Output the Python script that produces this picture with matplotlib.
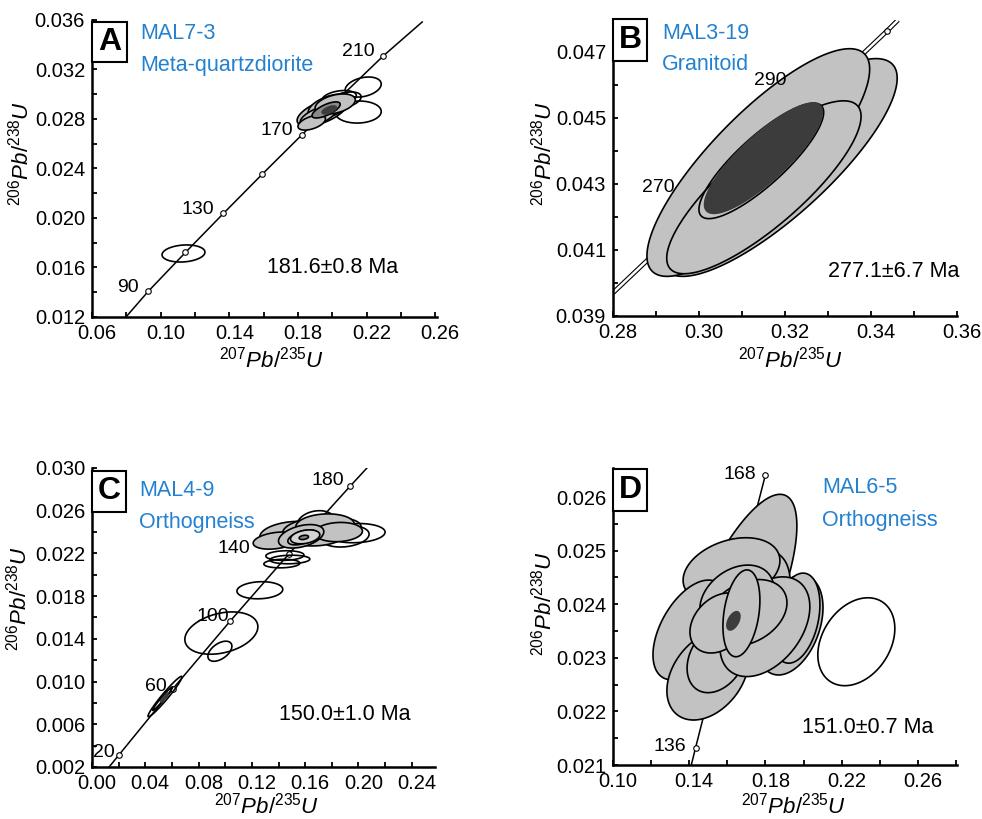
import numpy as np
import matplotlib
matplotlib.use('Agg')
import matplotlib.pyplot as plt
from matplotlib.patches import Polygon, Rectangle
from matplotlib.ticker import FormatStrFormatter
from matplotlib.transforms import ScaledTranslation

plt.rcParams['font.family'] = ['Liberation Sans', 'DejaVu Sans']
plt.rcParams['mathtext.fontset'] = 'custom'
plt.rcParams['mathtext.it'] = 'Liberation Sans:italic'
plt.rcParams['mathtext.rm'] = 'Liberation Sans'

# ---- panel A: MAL7-3 ----
a_cx = [0.1133, 0.2180, 0.2151, 0.2075, 0.2040, 0.1941, 0.1988, 0.1918, 0.1880, 0.2017, 0.1964, 0.1982]
a_cy = [0.01713, 0.03058, 0.02856, 0.02953, 0.02970, 0.02856, 0.02905, 0.02824, 0.02770, 0.02921, 0.02873, 0.02873]
a_sx = [0.0125, 0.0105, 0.0134, 0.0093, 0.0100, 0.0146, 0.0128, 0.0105, 0.0080, 0.0117, 0.0082, 0.0041]
a_sy = [0.00069, 0.00081, 0.00089, 0.00065, 0.00060, 0.00113, 0.00097, 0.00081, 0.00060, 0.00081, 0.00065, 0.00032]
a_rho = [0.15, 0.3, 0.05, 0.4, 0.3, 0.6, 0.5, 0.6, 0.5, 0.4, 0.7, 0.6]
a_kind = ['open', 'open', 'open', 'open', 'open', 'gray', 'gray', 'gray', 'gray', 'gray', 'mid', 'dark']
a_ages = [90, 110, 130, 150, 170, 190, 210]
a_mx = [0.0927, 0.1144, 0.1366, 0.1592, 0.1823, 0.2058, 0.2298]
a_my = [0.01406, 0.01721, 0.02037, 0.02354, 0.02672, 0.02991, 0.03311]
a_line_ends = [(0.0798, 0.0120), (0.2524, 0.03584)]
a_labeled = [90, 130, 170, 210]

# ---- panel B: MAL3-19 ----
b_cx = [0.3187, 0.3138, 0.3151, 0.3145, 0.3150]
b_cy = [0.0435, 0.04365, 0.0429, 0.0437, 0.04378]
b_sx = [0.0274, 0.0259, 0.0226, 0.0145, 0.0137]
b_sy = [0.0033, 0.00345, 0.00262, 0.00175, 0.00167]
b_rho = [0.82, 0.82, 0.82, 0.84, 0.84]
b_kind = ['gray', 'gray', 'gray', 'open', 'dark']
b_ages = [260, 270, 280, 290, 300]
b_mx = [0.29182, 0.30461, 0.31752, 0.33057, 0.34375]
b_my = [0.04116, 0.04277, 0.04439, 0.04601, 0.04764]
b_line_ends = [(0.2800, 0.03970), (0.3463, 0.04797)]
b_labeled = [270, 290]

# ---- panel C: MAL4-9 ----
c_cx = [0.126, 0.0971, 0.096, 0.0548, 0.0530, 0.0542,
        0.1448, 0.1485, 0.1425,
        0.198, 0.190, 0.185, 0.168,
        0.150, 0.168, 0.138, 0.175, 0.185, 0.157, 0.158, 0.160, 0.159]
c_cy = [0.01855, 0.01454, 0.01284, 0.0086, 0.0084, 0.0085,
        0.0218, 0.02143, 0.02105,
        0.0239, 0.0236, 0.0244, 0.0249,
        0.0238, 0.0240, 0.0232, 0.0246, 0.0240, 0.0236, 0.0235, 0.02355, 0.0235]
c_sx = [0.0172, 0.0274, 0.0090, 0.01275, 0.0075, 0.0028,
        0.0143, 0.0150, 0.0135,
        0.022, 0.018, 0.017, 0.014,
        0.024, 0.025, 0.017, 0.022, 0.018, 0.017, 0.011, 0.011, 0.0035]
c_sy = [0.0008, 0.00198, 0.00094, 0.00189, 0.0011, 0.00042,
        0.00045, 0.0004, 0.0004,
        0.0009, 0.0010, 0.0009, 0.0011,
        0.0012, 0.0013, 0.0008, 0.0011, 0.0009, 0.0011, 0.0007, 0.00065, 0.0002]
c_rho = [0.1, 0.3, 0.5, 0.97, 0.98, 0.95,
         0.1, 0.1, 0.1,
         0.1, 0.2, 0.1, 0.2,
         0.2, 0.1, 0.3, 0.1, 0.1, 0.4, 0.5, 0.3, 0.3]
c_kind = ['open', 'open', 'open', 'open', 'open', 'dark',
          'open', 'open', 'open',
          'open', 'open', 'open', 'open',
          'gray', 'gray', 'gray', 'gray', 'gray', 'gray', 'gray', 'light', 'mid']
c_ages = [20, 60, 100, 140, 180]
c_mx = [0.0201, 0.06087, 0.1035, 0.14784, 0.19396]
c_my = [0.00311, 0.00935, 0.01563, 0.02196, 0.02832]
c_line_ends = [(0.0128, 0.0020), (0.2064, 0.0300)]
c_labeled = [20, 60, 100, 140, 180]

# ---- panel D: MAL6-5 ----
d_cx = [0.2277, 0.165, 0.168, 0.1622, 0.1404, 0.1498, 0.1546, 0.1929, 0.196, 0.1797,
        0.165, 0.1703, 0.1561, 0.1674, 0.1632]
d_cy = [0.0233, 0.02395, 0.0238, 0.02463, 0.02352, 0.02268, 0.0230, 0.02361, 0.02374, 0.02358,
        0.0241, 0.02384, 0.02365, 0.02383, 0.02369]
d_sx = [0.0202, 0.0315, 0.025, 0.0254, 0.0194, 0.0215, 0.0157, 0.0173, 0.0126, 0.0236,
        0.0194, 0.021, 0.0157, 0.0097, 0.0034]
d_sy = [0.00082, 0.0021, 0.0012, 0.00061, 0.00093, 0.00084, 0.00065, 0.00093, 0.00084, 0.00093,
        0.00063, 0.00062, 0.00056, 0.00081, 0.00017]
d_rho = [0.3, 0.72, 0.5, 0.3, 0.5, 0.35, 0.3, 0.35, 0.3, 0.4,
         0.3, 0.3, 0.3, 0.3, 0.5]
d_kind = ['open', 'gray', 'gray', 'gray', 'gray', 'gray', 'gray', 'gray', 'gray', 'gray',
          'gray', 'gray', 'gray', 'gray', 'dark']
d_ages = [136, 152, 168]
d_mx = [0.14333, 0.16149, 0.17993]
d_my = [0.021321, 0.02386, 0.026403]
d_line_ends = [(0.1411, 0.0210), (0.17993, 0.026403)]
d_labeled = [136, 168]

FILL = {'gray': '#c2c2c2', 'light': '#d4d4d4', 'mid': '#8a8a8a', 'dark': '#3c3c3c', 'open': 'none'}
BLUE = '#2381cf'


def ellipse_points(cx, cy, sx, sy, rho, n=160):
    t = np.linspace(0, 2 * np.pi, n)
    x = cx + sx * np.cos(t)
    y = cy + sy * (rho * np.cos(t) + np.sqrt(1 - rho ** 2) * np.sin(t))
    return np.column_stack([x, y])


def draw_panel(ax, cx, cy, sx, sy, rho, kind, ages, mx, my, ends, labeled,
               label_offsets, band=False):
    inside = [(x, y) for x, y in zip(mx, my) if ends[0][0] < x < ends[1][0]]
    lx = [ends[0][0]] + [p[0] for p in inside] + [ends[1][0]]
    ly = [ends[0][1]] + [p[1] for p in inside] + [ends[1][1]]
    if band:
        ax.plot(lx, ly, color='black', lw=3.4, zorder=1, solid_capstyle='butt')
        ax.plot(lx, ly, color='white', lw=1.8, zorder=1.1, solid_capstyle='butt')
    else:
        ax.plot(lx, ly, color='black', lw=1.1, zorder=1)
    ax.plot(mx, my, 'o', ms=4, mfc='white', mec='black', mew=0.8, zorder=1.2)
    for age, x, y in zip(ages, mx, my):
        if age in labeled:
            dx, dy = label_offsets[labeled.index(age)]
            ax.annotate(str(age), (x, y), xytext=(dx, dy), textcoords='offset pixels',
                        ha='right', va='center', fontsize=14, zorder=6)
    for i in range(len(cx)):
        pts = ellipse_points(cx[i], cy[i], sx[i], sy[i], rho[i])
        fc = FILL[kind[i]]
        ec = FILL['dark'] if kind[i] == 'dark' else 'black'
        ax.add_patch(Polygon(pts, closed=True, fc=fc, ec=ec, lw=1.2, zorder=2 + i * 0.01))


def style_axes(ax, xlim, ylim, xticks, xminor, yticks, yminor, ylab_pos, xlab_pos):
    ax.set_xlim(*xlim)
    ax.set_ylim(*ylim)
    for s in ['top', 'right']:
        ax.spines[s].set_visible(False)
    for s in ['left', 'bottom']:
        ax.spines[s].set_linewidth(1.8)
    ax.set_xticks(xticks)
    ax.set_xticks(xminor, minor=True)
    ax.set_yticks(yticks)
    ax.set_yticks(yminor, minor=True)
    ax.xaxis.set_major_formatter(FormatStrFormatter('%.2f'))
    ax.yaxis.set_major_formatter(FormatStrFormatter('%.3f'))
    ax.tick_params(which='both', direction='in', length=3.5, width=1.3, labelsize=14.5)
    ax.tick_params(axis='x', pad=5)
    ax.tick_params(axis='y', pad=5)
    ax.set_xlabel(r'$\mathit{{}^{207}Pb/{}^{235}U}$', fontsize=16)
    ax.set_ylabel(r'$\mathit{{}^{206}Pb/{}^{238}U}$', fontsize=16)
    ax.xaxis.set_label_coords(*xlab_pos)
    ax.yaxis.set_label_coords(*ylab_pos)
    for lab in ax.get_xticklabels():
        lab.set_transform(lab.get_transform() + ScaledTranslation(0.05, 0, ax.figure.dpi_scale_trans))


def panel_tag(ax, letter, box, name, rock, name_xy, age_text, age_xy):
    x0, y0, w, h = box
    ax.add_patch(Rectangle((x0, y0), w, h, transform=ax.transAxes, fc='white', ec='black',
                           lw=1.5, clip_on=False, zorder=10))
    ax.text(x0 + w / 2, y0 + h / 2, letter, transform=ax.transAxes, ha='center', va='center',
            fontsize=23, fontweight='bold', zorder=11)
    ax.text(name_xy[0], name_xy[1], name, transform=ax.transAxes, color=BLUE,
            fontsize=15.5, va='center', ha='left', zorder=11)
    ax.text(name_xy[0], name_xy[2], rock, transform=ax.transAxes, color=BLUE,
            fontsize=15.5, va='center', ha='left', zorder=11)
    ax.text(age_xy[0], age_xy[1], age_text, transform=ax.transAxes,
            fontsize=15.5, va='center', ha='left', zorder=11)


fig = plt.figure(figsize=(9.82, 8.19), dpi=100)
axA = fig.add_axes([0.0937, 0.6130, 0.3513, 0.3626])
axB = fig.add_axes([0.6242, 0.6142, 0.3503, 0.3614])
axC = fig.add_axes([0.0937, 0.0635, 0.3493, 0.3651])
axD = fig.add_axes([0.6242, 0.0659, 0.3503, 0.3626])

draw_panel(axA, a_cx, a_cy, a_sx, a_sy, a_rho, a_kind, a_ages, a_mx, a_my, a_line_ends,
           a_labeled, [(-9, 4), (-9, 4), (-9, 4), (-9, 4)])
style_axes(axA, (0.06, 0.261), (0.012, 0.036),
           np.arange(0.06, 0.261, 0.04), np.arange(0.06, 0.261, 0.02),
           np.arange(0.012, 0.0361, 0.004), np.arange(0.012, 0.0361, 0.002),
           (-0.171, 0.55), (0.52, -0.101))
panel_tag(axA, 'A', (0, 0.859, 0.101, 0.134), 'MAL7-3', 'Meta-quartzdiorite',
          (0.139, 0.956, 0.848), '181.6\u00b10.8 Ma', (0.507, 0.165))

draw_panel(axB, b_cx, b_cy, b_sx, b_sy, b_rho, b_kind, b_ages, b_mx, b_my, b_line_ends,
           b_labeled, [(-44, 4), (-44, 4)], band=True)
style_axes(axB, (0.28, 0.3598), (0.039, 0.04797),
           np.arange(0.28, 0.361, 0.02), np.arange(0.28, 0.361, 0.01),
           np.arange(0.039, 0.0475, 0.002), np.arange(0.039, 0.0479, 0.001),
           (-0.163, 0.55), (0.517, -0.105))
panel_tag(axB, 'B', (0, 0.861, 0.099, 0.142), 'MAL3-19', 'Granitoid',
          (0.142, 0.956, 0.848), '277.1\u00b16.7 Ma', (0.625, 0.149))

draw_panel(axC, c_cx, c_cy, c_sx, c_sy, c_rho, c_kind, c_ages, c_mx, c_my, c_line_ends,
           c_labeled, [(-4, 3), (-6, 2), (-1, 5), (-39, 5), (-6, 5)])
style_axes(axC, (0.0, 0.2575), (0.002, 0.030),
           np.arange(0.0, 0.241, 0.04), np.arange(0.0, 0.2575, 0.02),
           np.arange(0.002, 0.0301, 0.004), np.arange(0.002, 0.0301, 0.002),
           (-0.175, 0.565), (0.51, -0.085))
panel_tag(axC, 'C', (0, 0.853, 0.099, 0.137), 'MAL4-9', 'Orthogneiss',
          (0.137, 0.926, 0.819), '150.0\u00b11.0 Ma', (0.545, 0.174))

draw_panel(axD, d_cx, d_cy, d_sx, d_sy, d_rho, d_kind, d_ages, d_mx, d_my, d_line_ends,
           d_labeled, [(-9, 1), (-9, 1)])
style_axes(axD, (0.10, 0.2805), (0.021, 0.02654),
           np.arange(0.10, 0.261, 0.04), np.arange(0.10, 0.2805, 0.02),
           np.arange(0.021, 0.02605, 0.001), np.arange(0.021, 0.02654, 0.0005),
           (-0.163, 0.545), (0.526, -0.092))
panel_tag(axD, 'D', (0, 0.855, 0.099, 0.141), 'MAL6-5', 'Orthogneiss',
          (0.608, 0.933, 0.825), '151.0\u00b10.7 Ma', (0.549, 0.128))

fig.savefig('out.png', dpi=100)
